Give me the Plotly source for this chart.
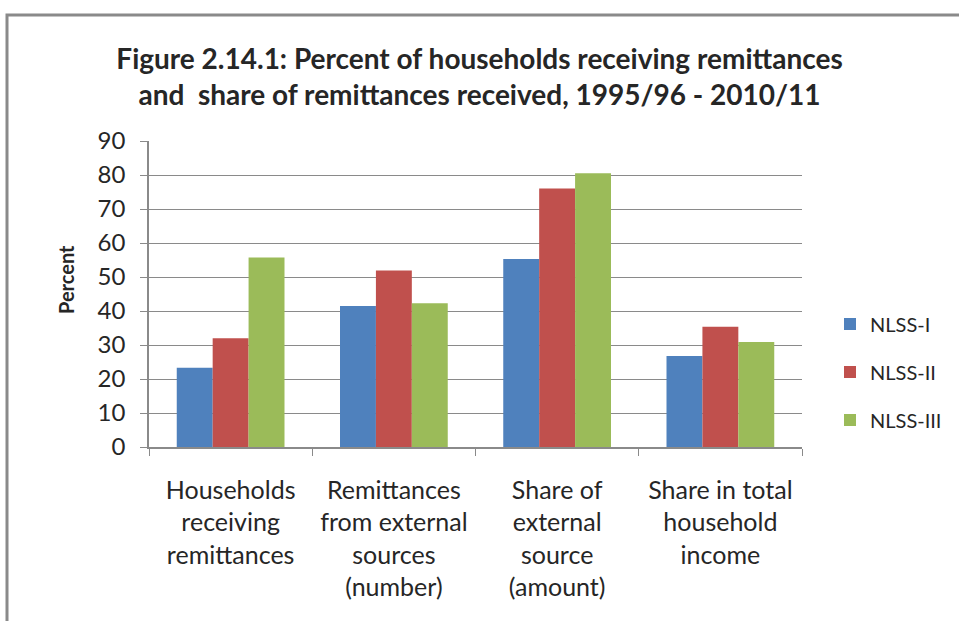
import plotly.graph_objects as go

categories = ["Households<br>receiving<br>remittances",
              "Remittances<br>from external<br>sources<br>(number)",
              "Share of<br>external<br>source<br>(amount)",
              "Share in total<br>household<br>income"]
series_names = ["NLSS-I", "NLSS-II", "NLSS-III"]
nlss1 = [23.3, 41.5, 55.3, 26.8]
nlss2 = [32.0, 51.9, 76.0, 35.4]
nlss3 = [55.7, 42.3, 80.5, 30.9]
colors = ["#4F81BD", "#C0504D", "#9BBB59"]
y_ticks = [0, 10, 20, 30, 40, 50, 60, 70, 80, 90]

FONT = "Lato, Open Sans, sans-serif"

fig = go.Figure()
for i, (name, vals) in enumerate(zip(series_names, [nlss1, nlss2, nlss3])):
    fig.add_trace(go.Bar(x=categories, y=vals, name=name, marker_color=colors[i],
                         marker_line_width=0, legendgroup=name))

W, H = 959, 621
L, R, T, B = 149, 157, 141, 174
pw, ph = W - L - R, H - T - B

def px_to_paper_x(px):
    return (px - L) / pw

def px_to_paper_y(py):
    return (H - B - py) / ph

fig.add_shape(type="path",
              path=f"M {px_to_paper_x(7)},{px_to_paper_y(640)} L {px_to_paper_x(7)},{px_to_paper_y(15)} L {px_to_paper_x(980)},{px_to_paper_y(15)}",
              xref="paper", yref="paper", line=dict(color="#8a8a8a", width=3), layer="above")

fig.add_annotation(text="<b>Percent</b>", textangle=-90, showarrow=False,
                   xref="paper", yref="paper", x=px_to_paper_x(66), y=px_to_paper_y(280),
                   xanchor="center", yanchor="middle",
                   font=dict(size=20, family=FONT, color="#262626"))

fig.update_layout(
    width=W, height=H,
    margin=dict(l=L, r=R, t=T, b=B, autoexpand=False),
    paper_bgcolor="white", plot_bgcolor="white",
    barmode="group", bargap=0.34, bargroupgap=0,
    font=dict(family=FONT, color="#262626"),
    title=dict(text="<b>Figure 2.14.1: Percent of households receiving remittances<br>and  share of remittances received, 1995/96 - 2010/11</b>",
               x=0.5, xref="container", xanchor="center", y=1 - 69 / H, yanchor="top",
               font=dict(size=28, family=FONT, color="#262626")),
    legend=dict(x=px_to_paper_x(830), xanchor="left", y=px_to_paper_y(372), yanchor="middle",
                font=dict(size=20, family=FONT), tracegroupgap=19,
                itemwidth=30, bgcolor="rgba(0,0,0,0)"),
    showlegend=True,
)
fig.update_xaxes(showline=True, linecolor="#8a8a8a", linewidth=1.5, automargin=False,
                 ticks="outside", tickson="boundaries", ticklen=7, tickcolor="#8a8a8a",
                 tickfont=dict(size=25, family=FONT, color="#262626"),
                 ticklabelstandoff=20, showgrid=False)
fig.update_yaxes(range=[0, 90], tickvals=y_ticks, showline=True, linecolor="#8a8a8a", linewidth=1.5,
                 automargin=False,
                 ticks="outside", ticklen=7, tickcolor="#8a8a8a",
                 showgrid=True, gridcolor="#8a8a8a", gridwidth=1.2,
                 tickfont=dict(size=24, family=FONT, color="#262626"),
                 ticklabelstandoff=10, zeroline=False)

fig.write_html("out.html", config={"displayModeBar": False},
               post_script="document.body.style.margin='0';")
